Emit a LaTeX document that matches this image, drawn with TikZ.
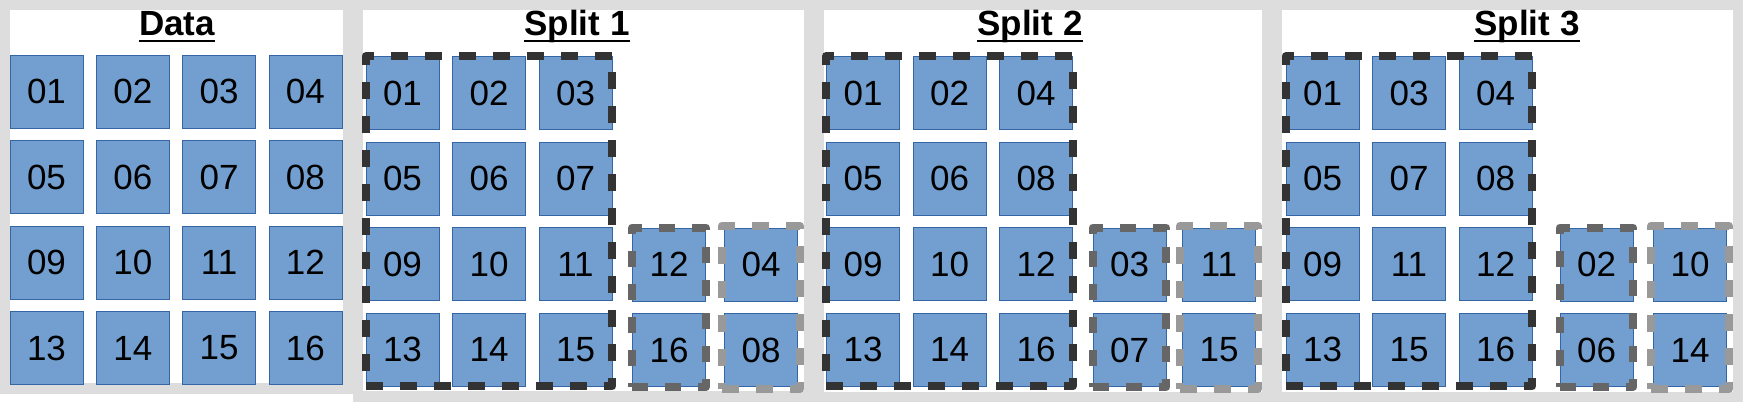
\documentclass[tikz,border=0pt]{standalone}
\usepackage{fontspec}
\setmainfont{Liberation Sans}
\usetikzlibrary{fit}
\definecolor{cellblue}{HTML}{729FCF}
\definecolor{cellline}{HTML}{3465A4}
\definecolor{bggray}{HTML}{DDDDDD}
\definecolor{darkdash}{HTML}{333333}
\definecolor{middash}{HTML}{666666}
\definecolor{lightdash}{HTML}{999999}

\begin{document}
\begin{tikzpicture}[x=1pt, y=-1pt, inner sep=0pt,
  cell/.style={rectangle, minimum size=73pt, fill=cellblue, draw=cellline, line width=0.8pt, font=\fontsize{35}{42}\selectfont},
  title/.style={anchor=base, font=\fontsize{35}{42}\selectfont\bfseries},
  uline/.style={line width=2pt},
  traingroup/.style={rectangle, draw=darkdash, line width=8pt, dash pattern=on 17pt off 17pt, line join=round},
  foldA/.style={rectangle, draw=middash, line width=8pt, dash pattern=on 16pt off 17pt, line join=round},
  foldB/.style={rectangle, draw=lightdash, line width=8pt, dash pattern=on 17pt off 17pt, line join=round, inner sep=2pt}]
\useasboundingbox (0,0) rectangle (1743,402);
\fill[bggray] (0,0) rectangle (1743,402);
% white panels
\fill[white] (10,10) rectangle (343,383);
\fill[white] (0,394) rectangle (353,402);
\fill[white] (363,10) rectangle (804,391);
\fill[white] (824,10) rectangle (1262,392);
\fill[white] (1282,10) rectangle (1733,392);

% data
\node[title] (data) at (177,35) {Data};
\draw[uline] ([yshift=-6pt]data.base west) -- ([yshift=-6pt]data.base east);
\foreach \lab [count=\i from 0] in {01,02,03,04,05,06,07,08,09,10,11,12,13,14,15,16}{
  \pgfmathtruncatemacro\c{mod(\i,4)}
  \pgfmathtruncatemacro\r{int(\i/4)}
  \node[cell] (d\lab) at (46.5+86.3*\c, 91.5+85.5*\r) {\lab};
}

% splits
\foreach \s/\xo/\xa/\xb/\tx/\train/\extra in {
  1/402.5/669/761/577/{01,02,03,05,06,07,09,10,11,13,14,15}/{12,16,04,08},
  2/863/1129.5/1219/1030/{01,02,04,05,06,08,09,10,12,13,14,16}/{03,07,11,15},
  3/1322.5/1596.5/1690/1527/{01,03,04,05,07,08,09,11,12,13,15,16}/{02,06,10,14}}{
  \node[title] (t\s) at (\tx,35) {Split \s};
  \draw[uline] ([yshift=-6pt]t\s.base west) -- ([yshift=-6pt]t\s.base east);
  \foreach \lab [count=\i from 0] in \train {
    \pgfmathtruncatemacro\c{mod(\i,3)}
    \pgfmathtruncatemacro\r{int(\i/3)}
    \node[cell] (s\s-t\i) at (\xo+86.5*\c, 93+85.5*\r) {\lab};
  }
  \foreach \lab [count=\i from 0] in \extra {
    \pgfmathtruncatemacro\c{int(\i/2)}
    \pgfmathtruncatemacro\r{mod(\i,2)}
    \pgfmathsetmacro\xe{\xa+\c*(\xb-\xa)}
    \node[cell] (s\s-e\i) at (\xe, 264.5+85.5*\r) {\lab};
  }
  \node[traingroup, fit=(s\s-t0)(s\s-t11)] (s\s-tr) {};
  \node[foldA, fit=(s\s-e0)(s\s-e1)] (s\s-fa) {};
  \node[foldB, fit=(s\s-e2)(s\s-e3)] (s\s-fb) {};
}
\end{tikzpicture}
\end{document}
